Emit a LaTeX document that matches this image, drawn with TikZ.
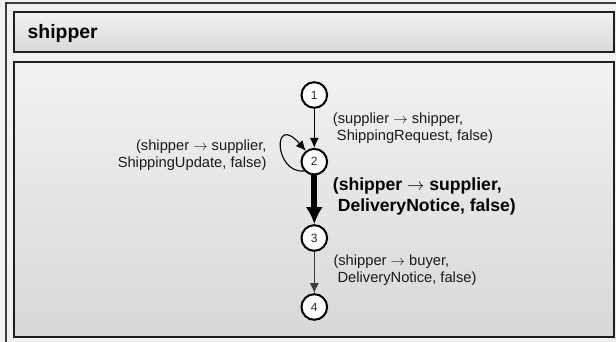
\documentclass[tikz,border=0pt]{standalone}
\usepackage{fontspec}
\setmainfont{Liberation Sans}
\usetikzlibrary{arrows.meta}
\definecolor{pagebg}{HTML}{F0F0F0}
\definecolor{boxtop}{HTML}{F2F2F2}
\definecolor{boxbot}{HTML}{D8D8D8}
\definecolor{frameline}{HTML}{3A3A3A}
\definecolor{boxline}{HTML}{1E1E1E}
\definecolor{numtext}{HTML}{2A2A2A}
\definecolor{labtext}{HTML}{1A1A1A}
\definecolor{greyedge}{HTML}{3C3C3C}
\newcommand{\rarr}{\ensuremath{\rightarrow}}
\begin{document}
\begin{tikzpicture}[x=1pt,y=-1pt,
  panel/.style={draw=boxline,line width=2pt,top color=boxtop,bottom color=boxbot},
  state/.style={circle,draw=black,line width=2pt,fill=white,minimum size=25.6pt,inner sep=0pt,
    text=numtext,font=\fontsize{12}{12}\selectfont},
  lab/.style={inner sep=0pt,text=labtext,font=\fontsize{14.7}{17}\selectfont},
  boldlab/.style={inner sep=0pt,text=black,font=\bfseries\fontsize{17.6}{21}\selectfont},
  thinedge/.style={line width=1.1pt,-{Latex[length=10pt,width=9pt]}},
  thickedge/.style={line width=6pt,-{Latex[length=17pt,width=17pt]}}]
\useasboundingbox (0,0) rectangle (616,342);
\fill[pagebg] (0,0) rectangle (616,342);
\begin{scope}
\clip (0,0) rectangle (616,342);
\draw[frameline,line width=1.6pt] (6,3) rectangle (625,350);
\end{scope}
% header
\draw[panel] (14,12.5) rectangle (614,52.5);
\node[anchor=base west,inner sep=0pt,font=\bfseries\fontsize{19.4}{22}\selectfont] (title) at (27.5,38.5) {shipper};
% body
\draw[panel] (14,62) rectangle (614,336.5);
% states
\node[state] (n1) at (314.3,95) {1};
\node[state] (n2) at (314.3,161.7) {2};
\node[state] (n3) at (314.3,238) {3};
\node[state] (n4) at (314.3,307) {4};
% edges
\draw[thinedge] (n1) -- (n2);
\draw[thickedge] (n2) -- (n3);
\draw[thinedge,draw=greyedge] (n3) -- (n4);
\draw[line width=1.1pt,-{Latex[length=10pt,width=9pt]}] (n2.222) .. controls (274,174) and (272,112) .. (n2.128);
% labels
\node[lab,anchor=west,align=left] (l12) at (332.7,128) {(supplier \rarr\ shipper,\\~ShippingRequest, false)};
\node[lab,anchor=east,align=right] (l22) at (266.7,155.5) {(shipper \rarr\ supplier,\\ShippingUpdate, false)};
\node[boldlab,anchor=west,align=left] (l23) at (332.7,196.5) {(shipper \rarr\ supplier,\\~DeliveryNotice, false)};
\node[lab,anchor=west,align=left] (l34) at (333.3,270) {(shipper \rarr\ buyer,\\~DeliveryNotice, false)};
\end{tikzpicture}
\end{document}
